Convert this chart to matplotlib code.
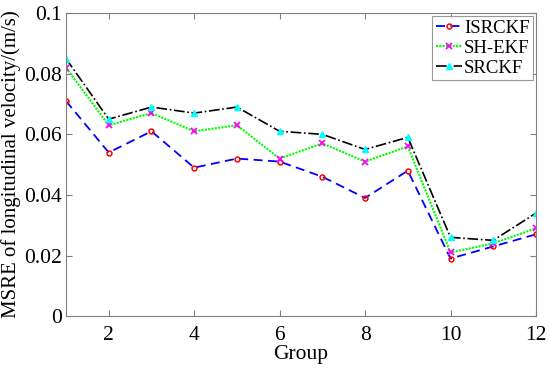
import matplotlib
matplotlib.use('Agg')
import matplotlib.pyplot as plt

# data
groups = list(range(1, 13))
isrckf = [0.071, 0.054, 0.061, 0.049, 0.052, 0.051, 0.046, 0.039, 0.048, 0.019, 0.023, 0.027]
sh_ekf = [0.082, 0.063, 0.067, 0.061, 0.063, 0.052, 0.057, 0.051, 0.056, 0.021, 0.024, 0.029]
srckf = [0.085, 0.065, 0.069, 0.067, 0.069, 0.061, 0.060, 0.055, 0.059, 0.026, 0.025, 0.034]

plt.rcParams['font.family'] = ['Liberation Serif', 'DejaVu Serif']

fig = plt.figure(figsize=(5.5, 3.75), dpi=100)
ax = fig.add_axes([0.12, 0.157, 0.8545, 0.808])

ax.plot(groups, isrckf, color='blue', linestyle=(0, (5, 3)), linewidth=1.3,
        marker='o', markersize=3.5, markerfacecolor='none', markeredgecolor='red',
        markeredgewidth=1.1, label='ISRCKF')
ax.plot(groups, sh_ekf, color='#00ff00', linestyle=(0, (1, 0.6)), linewidth=1.5,
        marker='x', markersize=4, markeredgecolor='magenta', markeredgewidth=1.3,
        label='SH-EKF')
ax.plot(groups, srckf, color='black', linestyle='-.', linewidth=1.2,
        marker='^', markersize=4, markerfacecolor='cyan', markeredgecolor='cyan',
        label='SRCKF')

ax.set_xlim(1, 12)
ax.set_ylim(0, 0.1)
ax.set_xticks([2, 4, 6, 8, 10, 12])
ax.set_yticks([0, 0.02, 0.04, 0.06, 0.08, 0.1])
ax.set_yticklabels(['0', '0.02', '0.04', '0.06', '0.08', '0.1'])
ax.tick_params(direction='in', length=4, color='#808080', labelsize=15.5,
               top=True, right=True, pad=3)
ax.tick_params(axis='x', pad=7)
for s in ax.spines.values():
    s.set_color('#808080')
    s.set_linewidth(0.8)

ax.set_xlabel('Group', fontsize=15.5, labelpad=0)
ax.set_ylabel('MSRE of longitudinal velocity/(m/s)', fontsize=15, labelpad=2)

leg = ax.legend(loc='upper right', fontsize=13.5, frameon=True, fancybox=False,
                borderaxespad=0.15, handlelength=1.4, handletextpad=0.1,
                labelspacing=0.15, borderpad=0.2)
leg.get_frame().set_edgecolor('#808080')
leg.get_frame().set_linewidth(0.8)

fig.savefig('out.png', dpi=100)
